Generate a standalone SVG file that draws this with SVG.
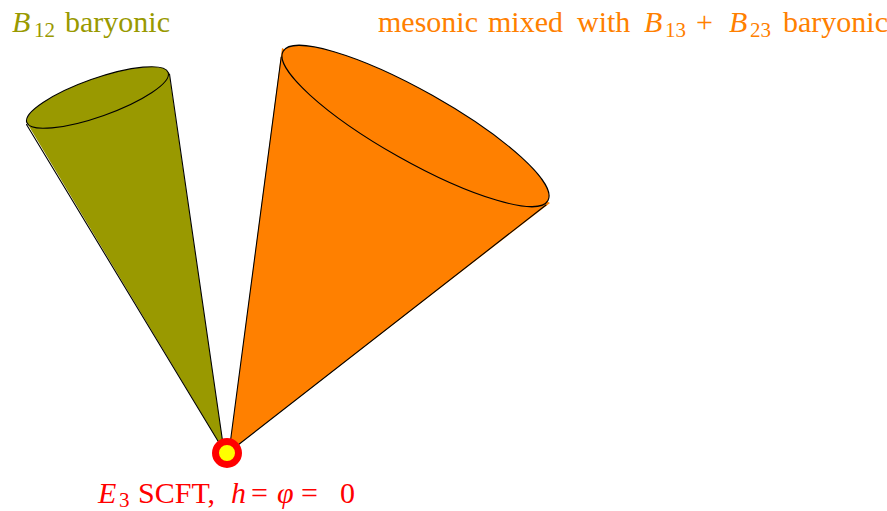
<svg xmlns="http://www.w3.org/2000/svg" width="887" height="511" viewBox="0 0 887 511">
<style>
.edge{stroke:#000;stroke-width:1.1;fill:none;stroke-linecap:round}
.rim{stroke:#000;stroke-width:1.1}
.m{font-style:italic}
.s{font-size:21px}
</style>
<rect width="887" height="511" fill="#fff"/>
<g id="cone-b12">
<polygon points="224,451 27,123 169,72" fill="#999900"/>
<line class="edge" x1="224" y1="451" x2="26.5" y2="124.5"/>
<line class="edge" x1="224" y1="451" x2="169.5" y2="74"/>
<ellipse class="rim" cx="97.5" cy="97.5" rx="75" ry="19" transform="rotate(-19.5 97.5 97.5)" fill="#999900"/>
</g>
<g id="cone-mixed">
<polygon points="229,452 282,48 550,203" fill="#ff8000"/>
<line class="edge" x1="229" y1="452" x2="281.2" y2="57"/>
<line class="edge" x1="229" y1="452" x2="546" y2="205"/>
<ellipse class="rim" cx="415.5" cy="126" rx="152" ry="35" transform="rotate(29.4 415.5 126)" fill="#ff8000"/>
</g>
<g id="e3-point">
<circle cx="227" cy="453" r="11.5" fill="#ffff00" stroke="#ff0000" stroke-width="7"/>
</g>
<g id="connectors"/>
<g id="label-b12">
<text font-family="Liberation Serif, Times New Roman, serif" font-size="30" fill="#999900" y="32"><tspan class="m" x="12">B</tspan><tspan class="s" x="34" dy="5">12</tspan><tspan x="65" dy="-5">baryonic</tspan></text>
</g>
<g id="label-mixed">
<text font-family="Liberation Serif, Times New Roman, serif" font-size="30" fill="#ff8000" y="32"><tspan x="378">mesonic</tspan><tspan x="488">mixed</tspan><tspan x="577">with</tspan><tspan class="m" x="644">B</tspan><tspan class="s" x="665" dy="5">13</tspan><tspan x="696" dy="-5">+</tspan><tspan class="m" x="729">B</tspan><tspan class="s" x="750" dy="5">23</tspan><tspan x="783" dy="-5">baryonic</tspan></text>
</g>
<g id="label-e3">
<text font-family="Liberation Serif, Times New Roman, serif" font-size="30" fill="#ff0000" y="503"><tspan class="m" x="98">E</tspan><tspan class="s" x="119" dy="4">3</tspan><tspan x="138" dy="-4">SCFT,</tspan><tspan class="m" x="231">h</tspan><tspan x="251">=</tspan><tspan class="m" x="277">φ</tspan><tspan x="301">=</tspan><tspan x="340">0</tspan></text>
</g>
</svg>
